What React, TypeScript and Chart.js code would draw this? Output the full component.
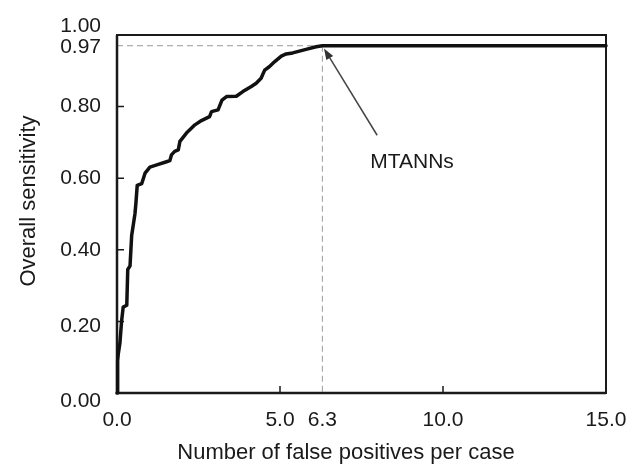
import React, { useEffect, useRef } from "react";
import { Chart, registerables } from "chart.js";

Chart.register(...registerables);

const fpX = [0, 0.02, 0.04, 0.09, 0.14, 0.19, 0.3, 0.33, 0.4, 0.45, 0.55, 0.58, 0.62, 0.76, 0.86, 1.01, 1.22, 1.52, 1.62, 1.67, 1.77, 1.88, 1.93, 2.13, 2.39, 2.59, 2.84, 2.9, 3.1, 3.22, 3.36, 3.66, 3.86, 4.12, 4.27, 4.42, 4.53, 4.68, 4.83, 5.04, 5.19, 5.39, 5.8, 6.11, 6.3, 15];
const sensY = [0, 0.09, 0.11, 0.14, 0.2, 0.24, 0.245, 0.345, 0.355, 0.44, 0.5, 0.53, 0.58, 0.585, 0.614, 0.631, 0.637, 0.646, 0.649, 0.665, 0.675, 0.679, 0.703, 0.726, 0.749, 0.761, 0.772, 0.786, 0.791, 0.818, 0.828, 0.829, 0.842, 0.856, 0.865, 0.879, 0.902, 0.912, 0.925, 0.941, 0.947, 0.95, 0.96, 0.967, 0.97, 0.97];

const xTickValues = [0, 5, 6.3, 10, 15];
const xTickLabels = ["0.0", "5.0", "6.3", "10.0", "15.0"];
const yTickValues = [0, 0.2, 0.4, 0.6, 0.8, 0.97, 1.0];
const yTickLabels = ["0.00", "0.20", "0.40", "0.60", "0.80", "0.97", "1.00"];

const operatingX = 6.3;
const operatingY = 0.97;
const annotationText = "MTANNs";
const arrowTail = { x: 7.98, y: 0.72 };
const arrowHead = { x: 6.35, y: 0.962 };
const annotationPos = { x: 9.05, y: 0.645 };

const xTitle = "Number of false positives per case";
const yTitle = "Overall sensitivity";

const FONT = "'Liberation Sans', Arial, sans-serif";

const decorPlugin = {
  id: "decor",
  beforeDatasetsDraw(chart: any) {
    const { ctx, chartArea, scales } = chart;
    const xs = scales.x;
    const ys = scales.y;
    const L = chartArea.left, R = chartArea.right, T = chartArea.top, B = chartArea.bottom;
    ctx.save();
    // dashed guide lines
    ctx.strokeStyle = "#9a9a9a";
    ctx.lineWidth = 1;
    ctx.setLineDash([6, 4]);
    const px = xs.getPixelForValue(operatingX);
    const py = ys.getPixelForValue(operatingY);
    ctx.beginPath();
    ctx.moveTo(L, py);
    ctx.lineTo(px, py);
    ctx.moveTo(px, py);
    ctx.lineTo(px, B);
    ctx.stroke();
    ctx.setLineDash([]);
    // frame
    ctx.strokeStyle = "#1a1a1a";
    ctx.lineWidth = 2;
    ctx.strokeRect(L, T, R - L, B - T);
    ctx.lineWidth = 2.5;
    ctx.beginPath();
    ctx.moveTo(L, T);
    ctx.lineTo(L, B);
    ctx.lineTo(R, B);
    ctx.stroke();
    // inner ticks
    ctx.lineWidth = 1.5;
    ctx.beginPath();
    [0.2, 0.4, 0.6, 0.8].forEach((v) => {
      const y = ys.getPixelForValue(v);
      ctx.moveTo(L, y);
      ctx.lineTo(L + 7, y);
    });
    [5, 10].forEach((v) => {
      const x = xs.getPixelForValue(v);
      ctx.moveTo(x, B);
      ctx.lineTo(x, B - 7);
    });
    ctx.stroke();
    ctx.restore();
  },
  afterDatasetsDraw(chart: any) {
    const { ctx, chartArea, scales } = chart;
    const xs = scales.x;
    const ys = scales.y;
    const L = chartArea.left, B = chartArea.bottom, T = chartArea.top;
    ctx.save();
    ctx.fillStyle = "#1a1a1a";
    // y tick labels
    ctx.font = `21px ${FONT}`;
    ctx.textAlign = "right";
    ctx.textBaseline = "middle";
    const yOffsets: Record<string, number> = { "1.00": -9, "0.97": 1, "0.20": 5, "0.00": 8 };
    yTickValues.forEach((v, i) => {
      const lab = yTickLabels[i];
      ctx.fillText(lab, L - 16, ys.getPixelForValue(v) + (yOffsets[lab] || 0));
    });
    // x tick labels
    ctx.textAlign = "center";
    xTickValues.forEach((v, i) => {
      ctx.fillText(xTickLabels[i], xs.getPixelForValue(v), B + 27);
    });
    // titles
    ctx.font = `22px ${FONT}`;
    ctx.fillText(xTitle, 346, B + 60);
    ctx.save();
    ctx.translate(29, 201);
    ctx.rotate(-Math.PI / 2);
    ctx.fillText(yTitle, 0, 0);
    ctx.restore();
    // arrow
    const tx = xs.getPixelForValue(arrowTail.x), ty = ys.getPixelForValue(arrowTail.y);
    const hx = xs.getPixelForValue(arrowHead.x), hy = ys.getPixelForValue(arrowHead.y);
    const ang = Math.atan2(hy - ty, hx - tx);
    const hl = 11, hw = 4;
    const bx = hx - hl * Math.cos(ang), by = hy - hl * Math.sin(ang);
    ctx.strokeStyle = "#444";
    ctx.lineWidth = 1.5;
    ctx.beginPath();
    ctx.moveTo(tx, ty);
    ctx.lineTo(bx, by);
    ctx.stroke();
    ctx.fillStyle = "#333";
    ctx.beginPath();
    ctx.moveTo(hx, hy);
    ctx.lineTo(bx + hw * Math.sin(ang), by - hw * Math.cos(ang));
    ctx.lineTo(bx - hw * Math.sin(ang), by + hw * Math.cos(ang));
    ctx.closePath();
    ctx.fill();
    // annotation
    ctx.fillStyle = "#1a1a1a";
    ctx.font = `21px ${FONT}`;
    ctx.textAlign = "center";
    ctx.fillText(annotationText, xs.getPixelForValue(annotationPos.x), ys.getPixelForValue(annotationPos.y));
    ctx.restore();
  },
};

export default function App() {
  const canvasRef = useRef<HTMLCanvasElement | null>(null);
  useEffect(() => {
    if (!canvasRef.current) return;
    const chart = new Chart(canvasRef.current, {
      type: "line",
      data: {
        datasets: [
          {
            data: fpX.map((x, i) => ({ x, y: sensY[i] })),
            borderColor: "#111",
            borderWidth: 3.5,
            pointRadius: 0,
            tension: 0,
            borderJoinStyle: "round",
            borderCapStyle: "round",
            fill: false,
            clip: false,
          } as any,
        ],
      },
      options: {
        responsive: false,
        animation: false,
        events: [],
        layout: { padding: { left: 117, right: 26, top: 35, bottom: 78 } },
        plugins: { legend: { display: false }, tooltip: { enabled: false } },
        scales: {
          x: { type: "linear", min: 0, max: 15, display: false },
          y: { type: "linear", min: 0, max: 1, display: false },
        },
      },
      plugins: [decorPlugin],
    });
    return () => chart.destroy();
  }, []);
  return (
    <div style={{ position: "absolute", left: 0, top: 0, width: 632, height: 471, background: "#fff" }}>
      <canvas ref={canvasRef} width={632} height={471} style={{ width: 632, height: 471 }} />
    </div>
  );
}
